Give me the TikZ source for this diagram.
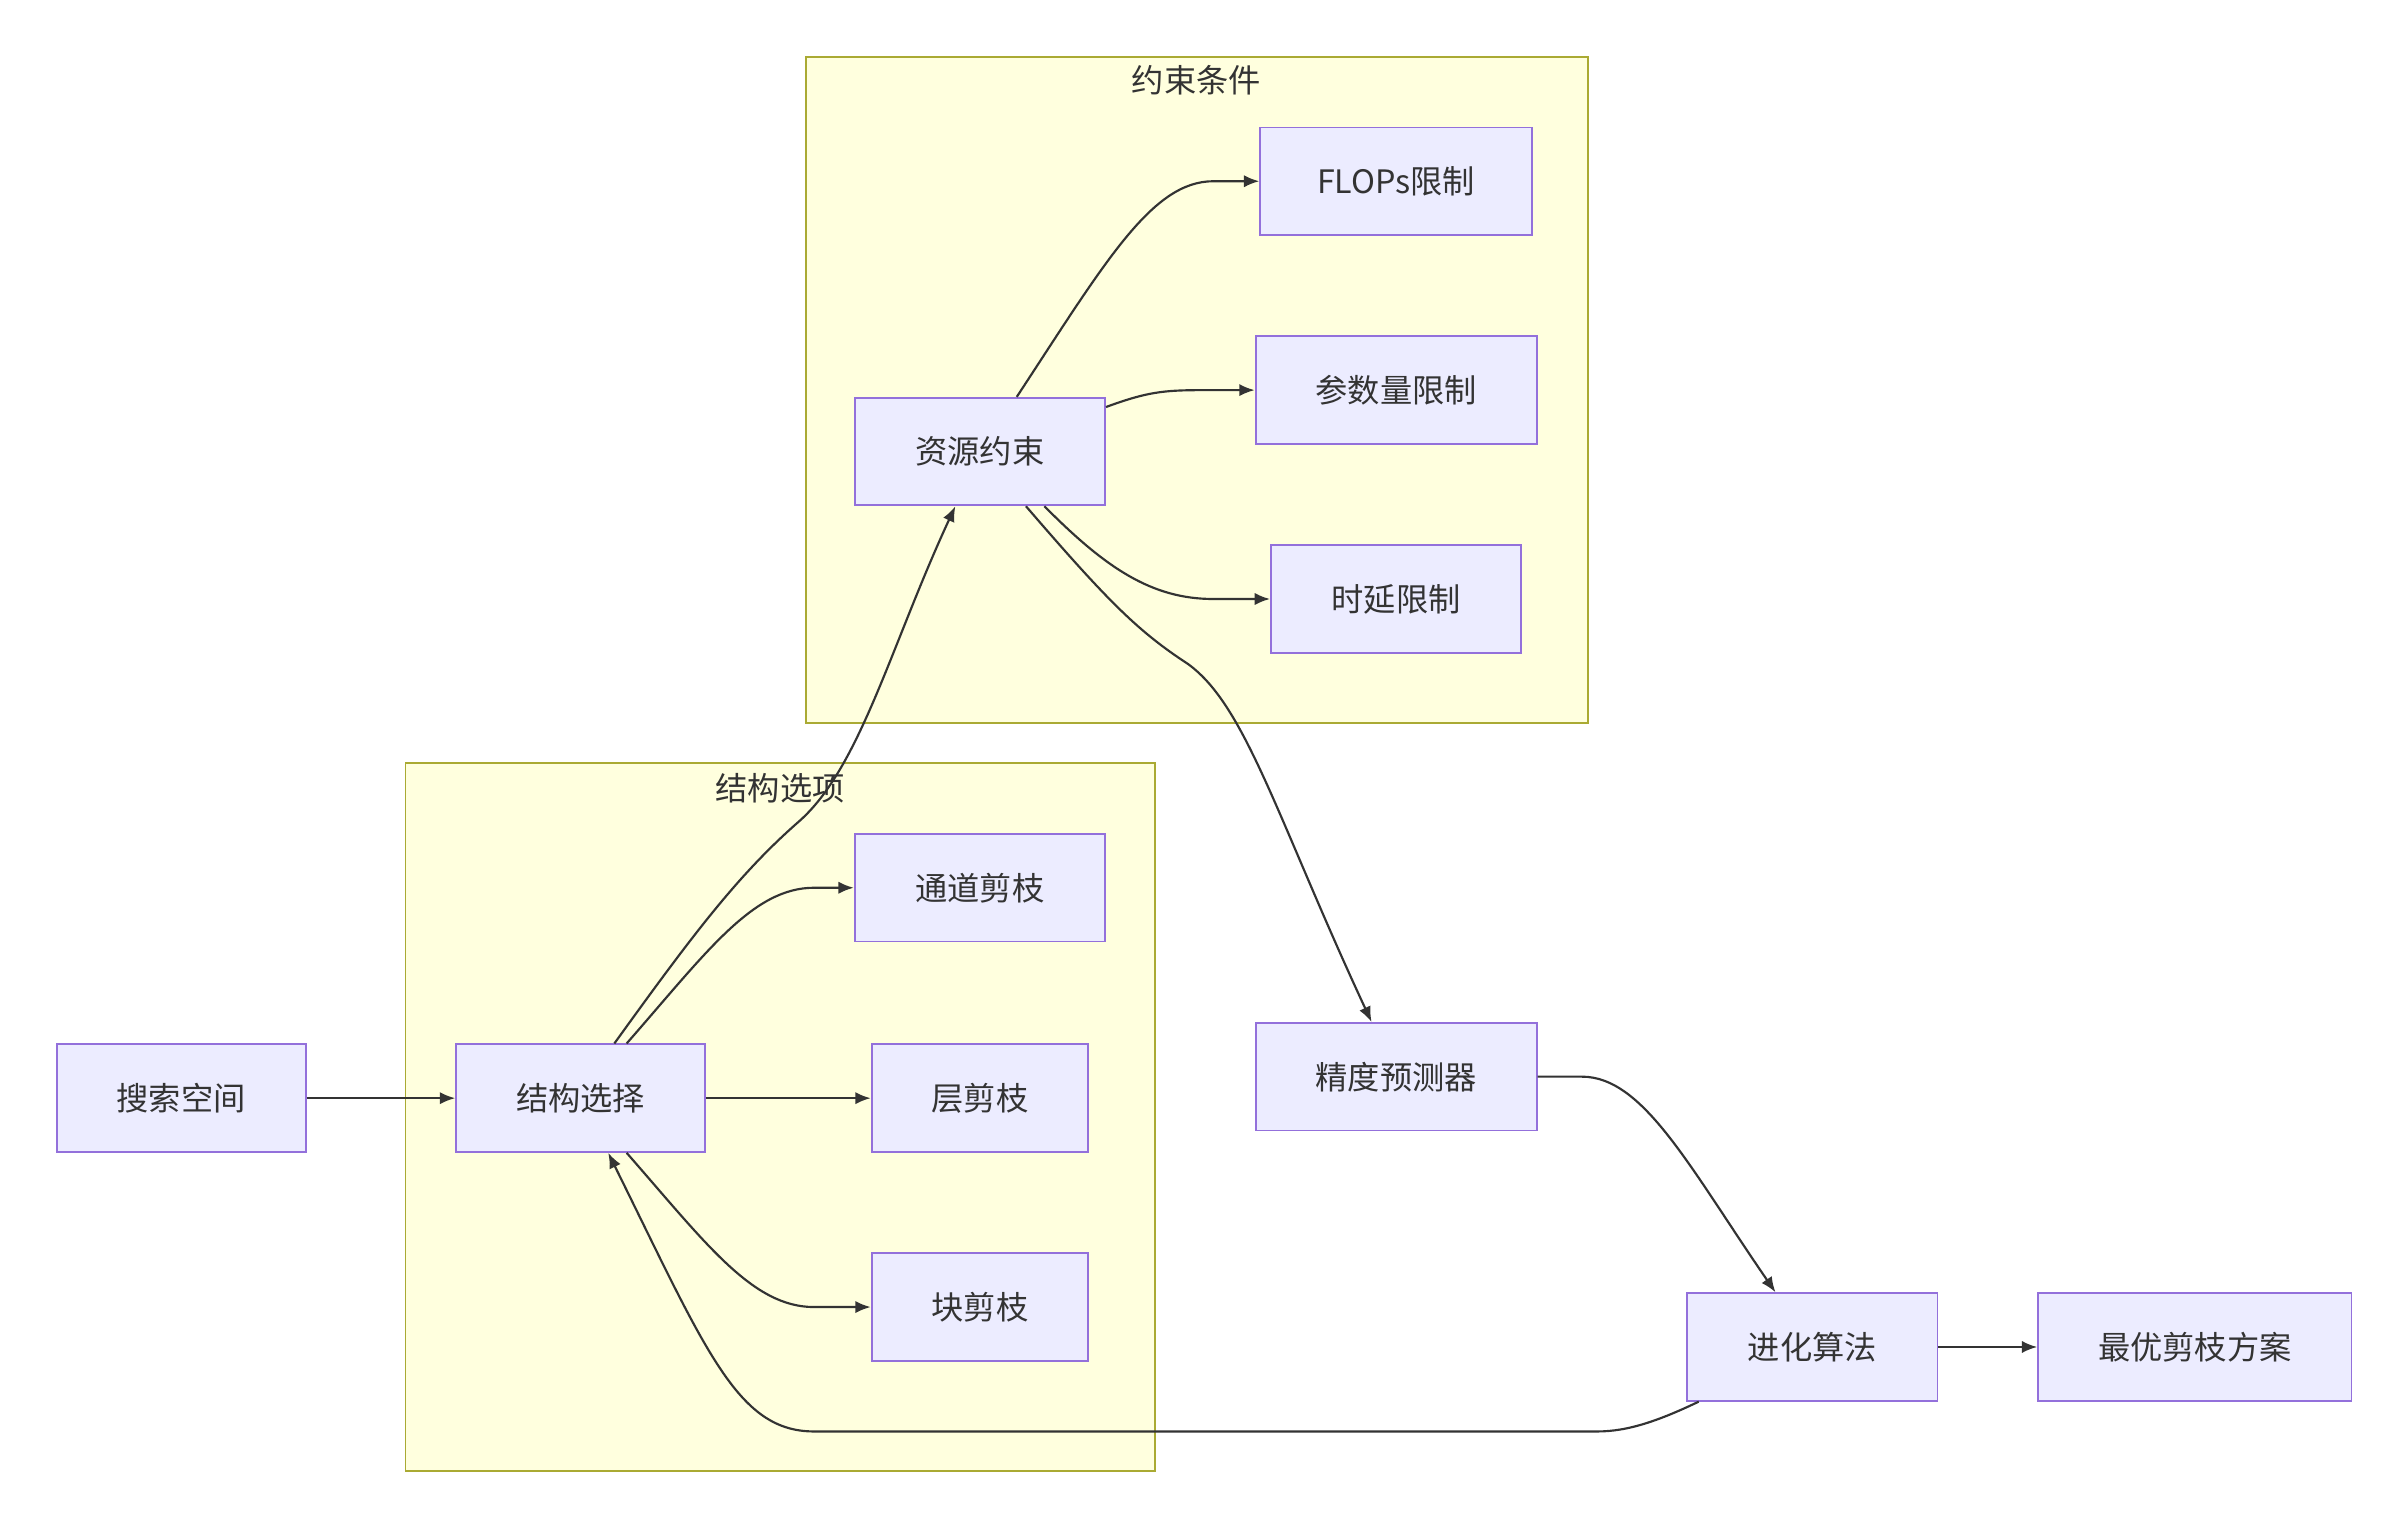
\documentclass[tikz,border=0pt]{standalone}
\usepackage{fontspec}
\setmainfont{Noto Sans CJK SC}
\usetikzlibrary{arrows.meta}
\definecolor{nb}{HTML}{9370DB}
\definecolor{nf}{HTML}{ECECFF}
\definecolor{cb}{HTML}{AAAA33}
\definecolor{cf}{HTML}{FFFFDE}
\definecolor{ec}{HTML}{333333}
\begin{document}
\begin{tikzpicture}[x=0.5pt,y=-0.5pt,
  box/.style={draw=nb,fill=nf,line width=0.6pt,minimum height=35pt,inner sep=0pt,font=\fontsize{10.5pt}{12pt}\selectfont,text=black!80},
  clus/.style={draw=cb,fill=cf,line width=0.6pt},
  e/.style={draw=ec,line width=0.7pt,-{Latex[length=5pt,width=4pt]}}]
\useasboundingbox (0,0) rectangle (1560,990);
\fill[white] (0,0) rectangle (1560,990);
\draw[clus] (525,37) rectangle (1034,471);
\draw[clus] (264,497) rectangle (752,958);
\node[font=\fontsize{10.5pt}{12pt}\selectfont,text=black!80] (t1) at (779,52) {约束条件};
\node[font=\fontsize{10.5pt}{12pt}\selectfont,text=black!80] (t2) at (508,513) {结构选项};
\node[box,minimum width=81pt] (ss) at (118,715) {搜索空间};
\node[box,minimum width=81pt] (jx) at (378,715) {结构选择};
\node[box,minimum width=81.5pt] (td) at (638,578) {通道剪枝};
\node[box,minimum width=70.5pt] (cj) at (638,715) {层剪枝};
\node[box,minimum width=70.5pt] (kj) at (638,851) {块剪枝};
\node[box,minimum width=81.5pt] (zy) at (638,294) {资源约束};
\node[box,minimum width=88.5pt] (fl) at (909,118) {FLOPs限制};
\node[box,minimum width=91.5pt] (cs) at (909,254) {参数量限制};
\node[box,minimum width=81.5pt] (sy) at (909,390) {时延限制};
\node[box,minimum width=91.5pt] (jd) at (909,701) {精度预测器};
\node[box,minimum width=81.5pt] (jh) at (1180,877) {进化算法};
\node[box,minimum width=102pt] (zu) at (1429,877) {最优剪枝方案};
\draw[e] (ss) -- (jx);
\draw[e] (jx) -- (cj);
\draw[e] ([xshift=15pt]jx.north) .. controls (460,620) and (490,578) .. (530,578) -- (td.west);
\draw[e] ([xshift=15pt]jx.south) .. controls (460,810) and (490,851) .. (530,851) -- (kj.west);
\draw[e] ([xshift=11pt]jx.north) .. controls (450,610) and (480,570) .. (520,535) .. controls (560,500) and (580,420) .. ([xshift=-8pt]zy.south);
\draw[e] ([xshift=12pt]zy.north) .. controls (720,170) and (750,118) .. (790,118) -- (fl.west);
\draw[e] (zy.east|-0,265) .. controls (750,254) and (760,254) .. (790,254) -- (cs.west);
\draw[e] ([xshift=21pt]zy.south) .. controls (720,370) and (750,390) .. (790,390) -- (sy.west);
\draw[e] ([xshift=15pt]zy.south) .. controls (720,390) and (740,410) .. (770,430) .. controls (810,455) and (830,530) .. ([xshift=-8pt]jd.north);
\draw[e] (jd.east) -- (1030,701) .. controls (1070,701) and (1100,760) .. ([xshift=-12pt]jh.north);
\draw[e] (jh) -- (zu);
\draw[e] ([xshift=-37pt]jh.south) .. controls (1080,925) and (1060,932) .. (1040,932) -- (530,932) .. controls (480,932) and (460,880) .. ([xshift=9pt]jx.south);
\end{tikzpicture}
\end{document}
